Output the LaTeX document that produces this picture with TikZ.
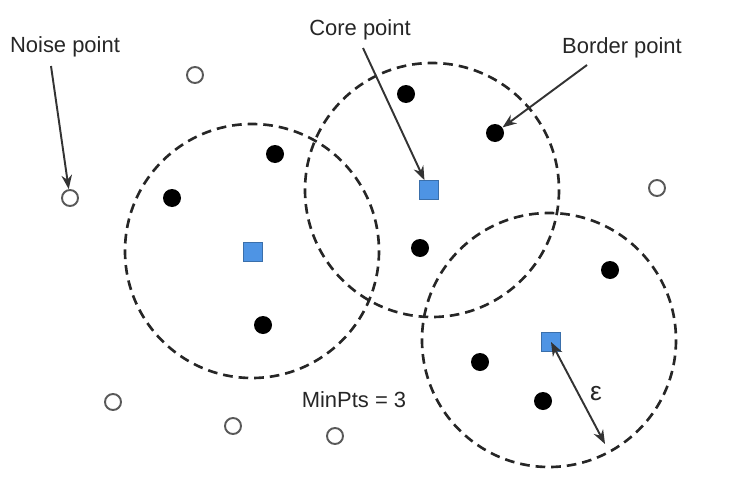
\documentclass[tikz,border=0pt]{standalone}
\usepackage{fontspec}
\setmainfont{Liberation Sans}
\usetikzlibrary{arrows.meta}
\definecolor{coreblue}{RGB}{78,148,228}
\tikzset{
  region/.style={draw=black!85, dash pattern=on 5.5pt off 3.4pt, line width=1.5pt},
  corept/.style={draw=coreblue!75!black, line width=0.4pt, fill=coreblue, minimum size=0.38cm, inner sep=0pt},
  borderpt/.style={circle, fill=black, minimum size=0.36cm, inner sep=0pt},
  noisept/.style={circle, draw=black!65, line width=1.1pt, fill=white, minimum size=0.32cm, inner sep=0pt},
  lbl/.style={font=\fontsize{12.5}{14}\selectfont, text=black!85, inner sep=1pt},
  pointer/.style={-{Stealth[length=8pt,width=6pt]}, line width=1.1pt, draw=black!80},
}
\begin{document}
\begin{tikzpicture}[x=0.02cm, y=-0.02cm]
\useasboundingbox (0,0) rectangle (729,480);
% eps-neighbourhoods
\draw[region] (252,251) circle[radius=127];
\draw[region] (432,190) circle[radius=127];
\draw[region] (549,340) circle[radius=127];
% core points
\node[corept] (c1) at (253,252) {};
\node[corept] (c2) at (429,190) {};
\node[corept] (c3) at (551,342) {};
% border points
\node[borderpt] (b1) at (275,154) {};
\node[borderpt] (b2) at (172,198) {};
\node[borderpt] (b3) at (263,325) {};
\node[borderpt] (b4) at (406,94) {};
\node[borderpt] (b5) at (495,133) {};
\node[borderpt] (b6) at (420,248) {};
\node[borderpt] (b7) at (610,270) {};
\node[borderpt] (b8) at (480,362) {};
\node[borderpt] (b9) at (543,401) {};
% noise points
\node[noisept] (n1) at (195,75) {};
\node[noisept] (n2) at (70,198) {};
\node[noisept] (n3) at (657,188) {};
\node[noisept] (n4) at (113,402) {};
\node[noisept] (n5) at (233,426) {};
\node[noisept] (n6) at (335,436) {};
% labels
\node[lbl] (lnoise) at (65,47) {Noise point};
\node[lbl] (lcore) at (360,30) {Core point};
\node[lbl] (lborder) at (622,48) {Border point};
\node[lbl] (lmin) at (354,400) {MinPts = 3};
\node[lbl, font=\fontsize{15}{16}\selectfont] (leps) at (596,394) {ε};
% pointers
\coordinate (s1) at (51,66);
\coordinate (s2) at (363,48);
\coordinate (s3) at (587,65);
\coordinate (e3) at (605,444);
\draw[pointer] (s1) -- (n2);
\draw[pointer] (s2) -- (c2);
\draw[pointer] (s3) -- (b5);
\draw[pointer, {Stealth[length=8pt,width=6pt]}-{Stealth[length=8pt,width=6pt]}] (c3.center) -- (e3);
\end{tikzpicture}
\end{document}
